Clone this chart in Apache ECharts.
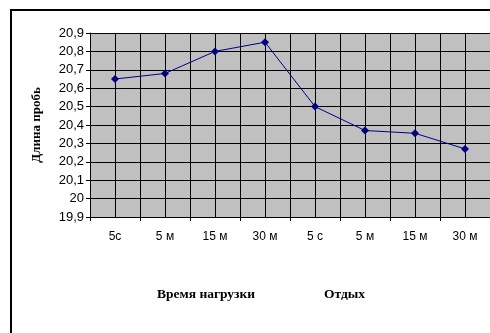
<!DOCTYPE html>
<html>
<head>
<meta charset="utf-8">
<script src="https://cdn.jsdelivr.net/npm/echarts@6/dist/echarts.min.js"></script>
<style>html,body{margin:0;padding:0;background:#fff;}#c{width:490px;height:333px;}</style>
</head>
<body>
<div id="c"></div>
<script>
var categories = ['5с', '5 м', '15 м', '30 м', '5 с', '5 м', '15 м', '30 м'];
var values = [20.65, 20.68, 20.80, 20.85, 20.50, 20.37, 20.355, 20.27];
var yTitle = 'Длина пробь';
var groupTitles = ['Время нагрузки', 'Отдых'];
var minorCats = [];
for (var i = 0; i < categories.length * 2; i++) minorCats.push('m' + i);

var chart = echarts.init(document.getElementById('c'), null, {renderer: 'canvas'});
chart.setOption({
  animation: false,
  backgroundColor: '#ffffff',
  grid: {left: 90, top: 33, width: 408, height: 184, show: true, backgroundColor: '#c0c0c0', borderWidth: 0, containLabel: false},
  xAxis: [{
    type: 'category', data: categories, boundaryGap: true,
    axisLine: {show: true, lineStyle: {color: '#000', width: 1}},
    axisTick: {show: true, length: 4, interval: 0, lineStyle: {color: '#000'}},
    axisLabel: {interval: 0, margin: 14, color: '#000', fontFamily: 'Liberation Sans, Arial', fontSize: 12},
    splitLine: {show: false}
  }, {
    type: 'category', data: minorCats, boundaryGap: true, position: 'bottom',
    axisLine: {show: false}, axisTick: {show: false}, axisLabel: {show: false},
    splitLine: {show: true, interval: 0, lineStyle: {color: '#000', width: 1}}
  }],
  yAxis: {
    type: 'value', min: 19.9, max: 20.9, interval: 0.1,
    name: yTitle, nameLocation: 'middle', nameGap: 47, nameRotate: 90,
    nameTextStyle: {fontFamily: 'Liberation Serif, Times New Roman', fontWeight: 'bold', fontSize: 13, color: '#000'},
    axisLine: {show: true, lineStyle: {color: '#000', width: 1}},
    axisTick: {show: true, length: 4, lineStyle: {color: '#000'}},
    axisLabel: {color: '#000', fontFamily: 'Liberation Sans, Arial', fontSize: 13, margin: 6,
      formatter: function (v) { return String(Math.round(v * 10) / 10).replace('.', ','); }},
    splitLine: {show: true, lineStyle: {color: '#000', width: 1}}
  },
  series: [{
    type: 'line', data: values, xAxisIndex: 0,
    symbol: 'diamond', symbolSize: 8,
    lineStyle: {color: '#000080', width: 1},
    itemStyle: {color: '#000080'}
  }],
  graphic: [
    {type: 'rect', shape: {x: 11, y: 10, width: 500, height: 400}, style: {fill: 'none', stroke: '#000', lineWidth: 2}, z: 100},
    {type: 'text', left: 157, top: 288, style: {text: groupTitles[0], font: 'bold 13.5px "Liberation Serif"', fill: '#000'}},
    {type: 'text', left: 324, top: 288, style: {text: groupTitles[1], font: 'bold 13.5px "Liberation Serif"', fill: '#000'}}
  ]
});
</script>
</body>
</html>
